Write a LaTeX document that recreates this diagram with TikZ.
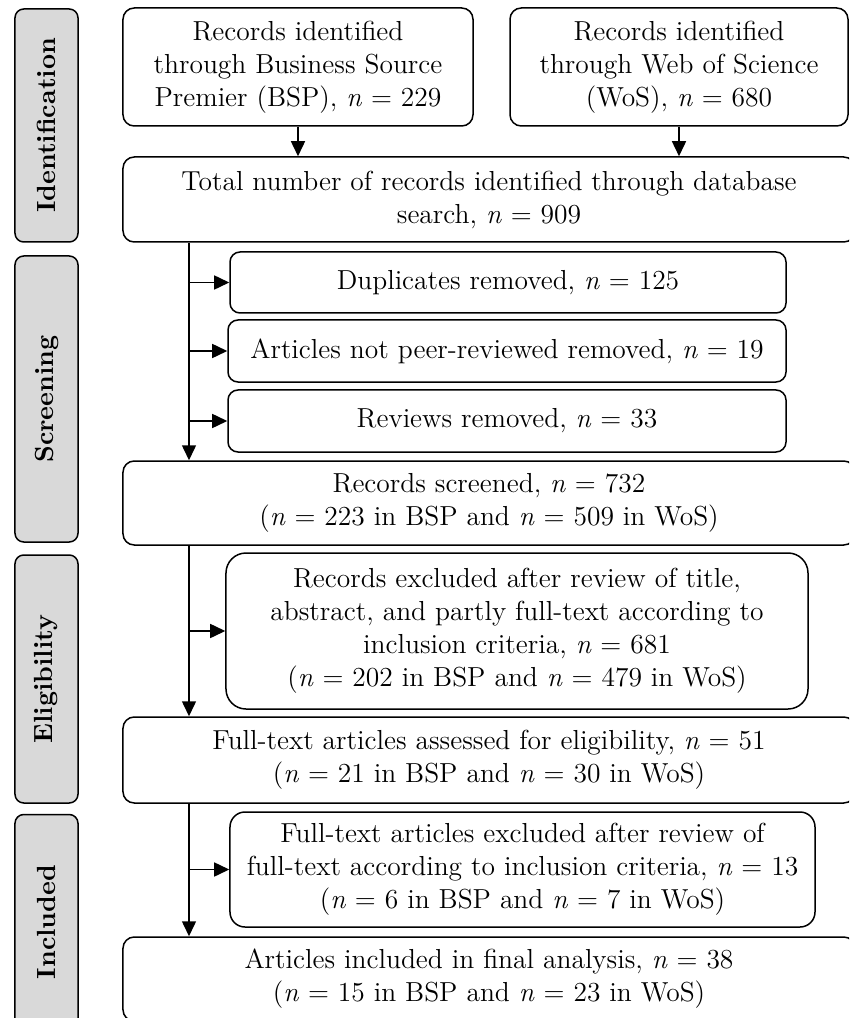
\documentclass[tikz,border=0pt]{standalone}
\usepackage{tikz}
\usetikzlibrary{arrows.meta,positioning,calc}

\begin{document}
\begin{tikzpicture}[x=0.4pt, y=-0.4pt,
  stage/.style={draw, rounded corners=3.5pt, fill=gray!30, rotate=90, minimum height=25.2pt,
                line width=0.6pt, font=\bfseries\fontsize{10.5}{12}\selectfont},
  box/.style={draw, rounded corners=4.5pt, align=center, line width=0.6pt, inner sep=0pt,
              font=\fontsize{11}{13.2}\selectfont},
  arrow/.style={-{Triangle[length=6pt,width=5.6pt]}, line width=0.6pt},
]
\clip (0,0) rectangle (849,1018);
% stages
\node[stage, minimum width=93.2pt] (idlbl) at (46.5,125.5) {Identification};
\node[stage, minimum width=114.4pt] (scrlbl) at (46.5,399) {Screening};
\node[stage, minimum width=99.2pt] (eliglbl) at (46.5,679) {Eligibility};
\node[stage, minimum width=86pt] (incllbl) at (46.5,922) {Included};
% boxes
\node[box, minimum width=140pt, minimum height=47.2pt] (bsp) at (298,67)
  {Records identified\\ through Business Source\\ Premier (BSP), \textit{n} = 229};
\node[box, minimum width=135.2pt, minimum height=47.2pt] (wos) at (679,67)
  {Records identified\\ through Web of Science\\ (WoS), \textit{n} = 680};
\node[box, minimum width=292.8pt, minimum height=34pt] (total) at (489,199.5)
  {Total number of records identified through database\\ search, \textit{n} = 909};
\node[box, rounded corners=4pt, minimum width=222.4pt, minimum height=24.4pt] (dup) at (508,282.5)
  {Duplicates removed, \textit{n} = 125};
\node[box, rounded corners=4pt, minimum width=223.2pt, minimum height=24.8pt] (peer) at (507,351)
  {Articles not peer-reviewed removed, \textit{n} = 19};
\node[box, rounded corners=4pt, minimum width=223.2pt, minimum height=24.8pt] (rev) at (507,421)
  {Reviews removed, \textit{n} = 33};
\node[box, minimum width=292.8pt, minimum height=33.6pt] (screened) at (489,503)
  {Records screened, \textit{n} = 732\\ (\textit{n} = 223 in BSP and \textit{n} = 509 in WoS)};
\node[box, rounded corners=8pt, minimum width=232.8pt, minimum height=62.4pt] (exelig) at (517,631)
  {Records excluded after review of title,\\ abstract, and partly full-text according to\\
   inclusion criteria, \textit{n} = 681\\ (\textit{n} = 202 in BSP and \textit{n} = 479 in WoS)};
\node[box, minimum width=292.8pt, minimum height=34.4pt] (assessed) at (489,760)
  {Full-text articles assessed for eligibility, \textit{n} = 51\\ (\textit{n} = 21 in BSP and \textit{n} = 30 in WoS)};
\node[box, rounded corners=6pt, minimum width=234pt, minimum height=46pt] (exincl) at (522.5,869.5)
  {Full-text articles excluded after review of\\ full-text according to inclusion criteria, \textit{n} = 13\\
   (\textit{n} = 6 in BSP and \textit{n} = 7 in WoS)};
\node[box, minimum width=292.8pt, minimum height=33.6pt] (final) at (489,979)
  {Articles included in final analysis, \textit{n} = 38\\ (\textit{n} = 15 in BSP and \textit{n} = 23 in WoS)};
% connectors
\coordinate (trunk) at (189,0);
\draw[arrow] (bsp.south) -- (bsp.south |- total.north);
\draw[arrow] (wos.south) -- (wos.south |- total.north);
\draw[arrow] (total.south -| trunk) -- (screened.north -| trunk);
\draw[arrow] (screened.south -| trunk) -- (assessed.north -| trunk);
\draw[arrow] (assessed.south -| trunk) -- (final.north -| trunk);
\foreach \b in {dup, peer, rev, exelig, exincl}
  \draw[arrow] (\b.west -| trunk) -- (\b.west);
\end{tikzpicture}
\end{document}
